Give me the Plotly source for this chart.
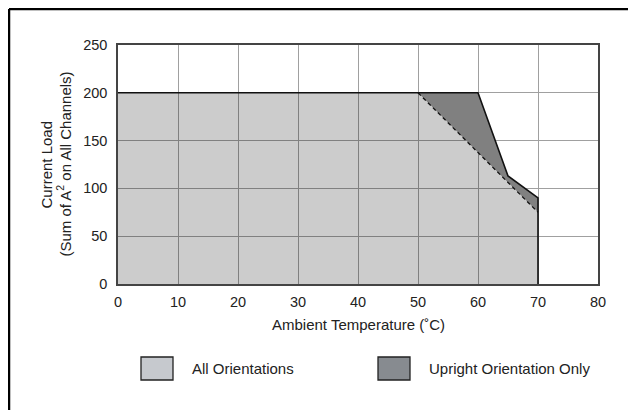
import plotly.graph_objects as go

# Data
all_x = [0, 50, 70, 70]
all_y = [200, 200, 75, 0]
upright_x = [50, 60, 65, 70, 70]
upright_y = [200, 200, 113, 90, 75]
x_ticks = [0, 10, 20, 30, 40, 50, 60, 70, 80]
y_ticks = [0, 50, 100, 150, 200, 250]
legend_labels = ["All Orientations", "Upright Orientation Only"]

FONT = "Liberation Sans, Arial, Helvetica, sans-serif"
W, H = 636, 410
OFF = 8  # page body margin
# plot area in screen pixels
L, R, T, B = 118, 598, 45, 284

def px(x):
    return (x - L) / (R - L)

def py(y):
    return (B - y) / (B - T)

fig = go.Figure()

fig.add_trace(go.Scatter(x=all_x, y=all_y, mode="none", fill="tozeroy",
                         fillcolor="rgba(0,0,0,0.2)", hoverinfo="skip"))
ux = upright_x + [upright_x[0]]
uy = upright_y + [upright_y[0]]
fig.add_trace(go.Scatter(x=ux, y=uy, mode="none", fill="toself",
                         fillcolor="#808080", hoverinfo="skip"))
fig.add_trace(go.Scatter(x=all_x[1:3], y=all_y[1:3], mode="lines",
                         line=dict(color="#111", width=1.3, dash="4px,3px")))
out_x = all_x[:2] + upright_x[1:4] + [all_x[3]]
out_y = all_y[:2] + upright_y[1:4] + [all_y[3]]
fig.add_trace(go.Scatter(x=out_x, y=out_y, mode="lines",
                         line=dict(color="#111", width=1.6)))

fig.update_layout(
    width=W, height=H,
    margin=dict(l=L - OFF, r=W - (R - OFF), t=T - OFF, b=H - (B - OFF)),
    paper_bgcolor="white", plot_bgcolor="white",
    showlegend=False,
    font=dict(family=FONT, size=15, color="#222"),
)
fig.update_xaxes(range=[0, 80], tickvals=x_ticks, showgrid=True,
                 gridcolor="#a0a0a0", gridwidth=1.3, zeroline=False,
                 showline=True, linecolor="#444", linewidth=1.5, mirror=True,
                 ticks="", ticklabelstandoff=4, tickfont=dict(size=14.5, color="#222"))
fig.update_yaxes(range=[0, 250], tickvals=y_ticks, showgrid=True,
                 gridcolor="#a0a0a0", gridwidth=1.3, zeroline=False,
                 showline=True, linecolor="#444", linewidth=1.5, mirror=True,
                 ticks="", ticklabelstandoff=6,
                 tickfont=dict(size=14.5, color="#222"))

shapes = []
shapes.append(dict(type="line", xref="paper", yref="paper",
                   x0=px(9), x1=px(9), y0=py(9), y1=py(420),
                   line=dict(color="black", width=2.5)))
shapes.append(dict(type="line", xref="paper", yref="paper",
                   x0=px(9), x1=px(650), y0=py(9), y1=py(9),
                   line=dict(color="black", width=2.5)))
for (x0, x1), col in zip([(141, 173), (378, 410)], ["#c6c9ce", "#878b90"]):
    shapes.append(dict(type="rect", xref="paper", yref="paper",
                       x0=px(x0), x1=px(x1), y0=py(380), y1=py(357),
                       fillcolor=col, line=dict(color="#222", width=1.3)))
fig.update_layout(shapes=shapes)

ann = []
for lab, x in zip(legend_labels, [190, 427]):
    ann.append(dict(text=lab, xref="paper", yref="paper", x=px(x), y=py(368.5),
                    xanchor="left", yanchor="middle", showarrow=False,
                    font=dict(size=15, color="#222")))
ann.append(dict(text="Ambient Temperature (˚C)", xref="paper", yref="paper",
                x=0.5, y=py(324), xanchor="center", yanchor="middle",
                showarrow=False, font=dict(size=15, color="#222")))
ann.append(dict(text="Current Load", xref="paper", yref="paper",
                x=px(46), y=0.5, xanchor="center", yanchor="middle",
                textangle=-90, showarrow=False, font=dict(size=15, color="#222")))
ann.append(dict(text="(Sum of A<sup>2</sup> on All Channels)", xref="paper", yref="paper",
                x=px(64), y=0.5, xanchor="center", yanchor="middle",
                textangle=-90, showarrow=False, font=dict(size=15, color="#222")))
fig.update_layout(annotations=ann)

fig.write_html("out.html")
